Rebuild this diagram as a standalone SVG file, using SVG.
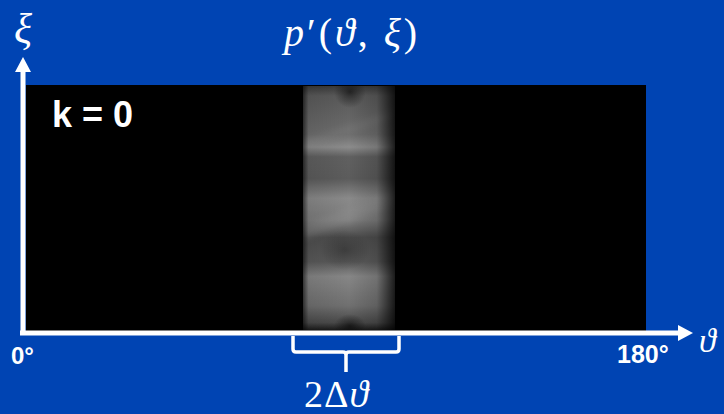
<svg xmlns="http://www.w3.org/2000/svg" width="724" height="414" viewBox="0 0 724 414">
<style>
.math{font-family:"Liberation Serif","DejaVu Serif",serif;fill:#fff;}
.lbl{font-family:"Liberation Sans",Arial,sans-serif;font-weight:bold;fill:#fff;}
.ax{stroke:#fff;stroke-width:5;fill:none;}
</style>
<defs>
<linearGradient id="vg" x1="0" y1="0" x2="0" y2="1">
<stop offset="0" stop-color="#3a3a3a"/>
<stop offset="0.04" stop-color="#5a5a5a"/>
<stop offset="0.2" stop-color="#6e6e6e"/>
<stop offset="0.25" stop-color="#8c8c8c"/>
<stop offset="0.29" stop-color="#606060"/>
<stop offset="0.38" stop-color="#5c5c5c"/>
<stop offset="0.46" stop-color="#8a8a8a"/>
<stop offset="0.55" stop-color="#7c7c7c"/>
<stop offset="0.62" stop-color="#4e4e4e"/>
<stop offset="0.72" stop-color="#5a5a5a"/>
<stop offset="0.78" stop-color="#868686"/>
<stop offset="0.9" stop-color="#707070"/>
<stop offset="0.97" stop-color="#4a4a4a"/>
<stop offset="1" stop-color="#1a1a1a"/>
</linearGradient>
<linearGradient id="hg" x1="0" y1="0" x2="1" y2="0">
<stop offset="0" stop-color="#000" stop-opacity="0.6"/>
<stop offset="0.06" stop-color="#000" stop-opacity="0.1"/>
<stop offset="0.5" stop-color="#000" stop-opacity="0"/>
<stop offset="0.8" stop-color="#000" stop-opacity="0.15"/>
<stop offset="1" stop-color="#000" stop-opacity="0.8"/>
</linearGradient>
<radialGradient id="dk">
<stop offset="0" stop-color="#000" stop-opacity="0.55"/>
<stop offset="1" stop-color="#000" stop-opacity="0"/>
</radialGradient>
<filter id="bl" x="-20%" y="-20%" width="140%" height="140%"><feGaussianBlur stdDeviation="3"/></filter>
<clipPath id="bc"><rect x="303" y="86" width="92" height="244"/></clipPath>
</defs>
<rect width="724" height="414" fill="#0044b3"/>
<g id="plot">
<rect x="26" y="85" width="620" height="246" fill="#000"/>
<g id="band">
<rect x="303" y="86" width="92" height="244" fill="url(#vg)"/>
<g clip-path="url(#bc)">
<path d="M303 225 L395 190 L395 205 L303 240 Z" fill="#999" opacity="0.3" filter="url(#bl)"/>
<path d="M303 140 L395 110 L395 118 L303 148 Z" fill="#999" opacity="0.15" filter="url(#bl)"/>
<ellipse cx="350" cy="92" rx="16" ry="16" fill="url(#dk)"/>
<ellipse cx="350" cy="326" rx="16" ry="12" fill="url(#dk)"/>
<ellipse cx="345" cy="250" rx="25" ry="20" fill="url(#dk)" opacity="0.5"/>
</g>
<rect x="303" y="86" width="92" height="244" fill="url(#hg)"/>
</g>
<text class="lbl" x="52" y="127" font-size="36">k = 0</text>
</g>
<g id="connectors">
<line class="ax" x1="23" y1="335" x2="23" y2="70"/>
<polygon points="23,57 15,72 31,72" fill="#fff"/>
<line class="ax" x1="20" y1="333" x2="680" y2="333"/>
<polygon points="693,333 678,325 678,341" fill="#fff"/>
<path d="M293 336 V349 Q293 352 296 352 H343 Q346 352 346 355 V372 M346 355 Q346 352 349 352 H396 Q399 352 399 349 V336" stroke="#fff" stroke-width="3.5" fill="none"/>
</g>
<g id="labels">
<text class="math" x="14" y="43" font-size="42" font-style="italic">ξ</text>
<text class="math" x="284" y="46" font-size="40" letter-spacing="3"><tspan font-style="italic">p</tspan>′(<tspan font-style="italic">ϑ</tspan>, <tspan font-style="italic">ξ</tspan>)</text>
<text class="math" x="699" y="352" font-size="34" font-style="italic">ϑ</text>
<text class="math" x="304" y="407" font-size="38" letter-spacing="1">2Δ<tspan font-style="italic">ϑ</tspan></text>
<text class="lbl" x="11" y="364" font-size="24">0°</text>
<text class="lbl" x="617" y="363" font-size="25">180°</text>
</g>
</svg>
